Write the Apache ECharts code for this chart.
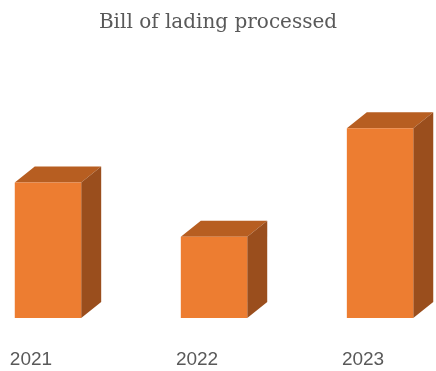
<!DOCTYPE html>
<html><head><meta charset="utf-8">
<script src="https://cdn.jsdelivr.net/npm/echarts@6/dist/echarts.min.js"></script>
<style>html,body{margin:0;padding:0;background:#fff}#c{width:436px;height:371px}</style>
</head><body><div id="c"></div>
<script>
const categories = ['2021', '2022', '2023'];
const values = [2500, 1500, 3500];
const titleText = 'Bill of lading processed';

const chart = echarts.init(document.getElementById('c'));
const DX = 20, DY = 16;
chart.setOption({
  animation: false,
  title: {
    text: titleText, left: 'center', top: 8,
    textStyle: { fontFamily: 'DejaVu Serif', fontSize: 20, fontWeight: 'normal', color: '#595959' }
  },
  grid: { left: 0, right: 0, bottom: 53, top: 47, containLabel: false },
  xAxis: {
    type: 'value', min: -0.289, max: 2.337,
    axisLine: { show: false }, axisTick: { show: false }, splitLine: { show: false },
    axisLabel: {
      customValues: [0, 1, 2],
      formatter: v => categories[Math.round(v)],
      margin: 32, fontSize: 19, color: '#595959', fontFamily: 'Liberation Sans',
      padding: [0, 34, 0, 0]
    }
  },
  yAxis: { type: 'value', min: 0, max: 5000, show: false, splitLine: { show: false } },
  series: [{
    type: 'custom',
    data: values.map((v, i) => [i, v]),
    renderItem: function (params, api) {
      const c = api.coord([api.value(0), api.value(1)]);
      const b = api.coord([api.value(0), 0]);
      const w = api.size([0.4, 0])[0];
      const x0 = c[0] - w / 2, x1 = c[0] + w / 2, yt = c[1], yb = b[1];
      return {
        type: 'group',
        children: [
          { type: 'polygon', shape: { points: [[x0, yt], [x1, yt], [x1 + DX, yt - DY], [x0 + DX, yt - DY]] }, style: { fill: '#B75E21' } },
          { type: 'polygon', shape: { points: [[x1, yt], [x1 + DX, yt - DY], [x1 + DX, yb - DY], [x1, yb]] }, style: { fill: '#9A4E1D' } },
          { type: 'rect', shape: { x: x0, y: yt, width: w, height: yb - yt }, style: { fill: '#ED7D31' } }
        ]
      };
    }
  }]
});
</script></body></html>
